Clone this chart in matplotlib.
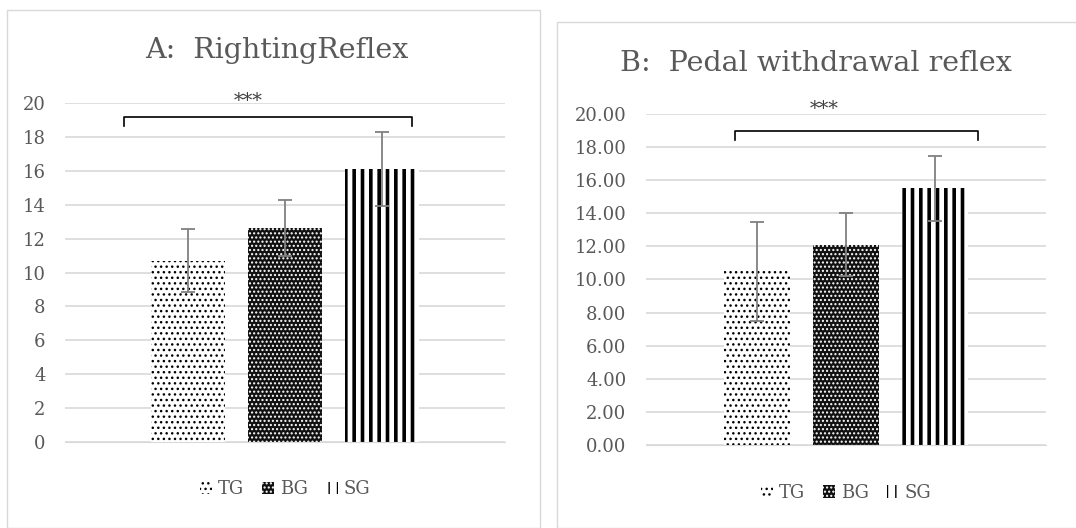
import numpy as np
import matplotlib.pyplot as plt
from matplotlib.patches import Rectangle, Patch

# data
groups = ['TG', 'BG', 'SG']
righting_mean = [10.7, 12.6, 16.1]
righting_err = [1.85, 1.65, 2.2]
pedal_mean = [10.5, 12.1, 15.5]
pedal_err = [3.0, 1.9, 1.95]
righting_bracket = 19.2
pedal_bracket = 18.95

plt.rcParams['font.family'] = ['DejaVu Serif']
grey = '#595959'

fig = plt.figure(figsize=(10.76, 5.28), dpi=100)

# panel frames
fig.patches.append(Rectangle((7 / 1076, 0), 533 / 1076, 518 / 528, transform=fig.transFigure,
                             fill=False, ec='#d9d9d9', lw=1))
fig.patches.append(Rectangle((557 / 1076, 0), 530 / 1076, 506 / 528, transform=fig.transFigure,
                             fill=False, ec='#d9d9d9', lw=1))

styles = [dict(facecolor='white', edgecolor='black', hatch='...', lw=0),
          dict(facecolor='#111111', edgecolor='white', hatch='....', lw=0),
          dict(facecolor='white', edgecolor='black', hatch='||', lw=0)]
hatch_lw = [1.0, 1.0, 2.6]


def panel(rect, means, errs, title, fmt, half, width, bracket, br, title_xy, leg_y, star):
    ax = fig.add_axes(rect)
    x = np.arange(len(groups))
    handles = []
    for i in range(len(groups)):
        b = ax.bar(x[i], means[i], width=width, zorder=2, **styles[i])
        for p in b:
            p.set_hatch_linewidth(hatch_lw[i])
        ax.errorbar(x[i], means[i], yerr=errs[i], fmt='none', ecolor='#808080',
                    elinewidth=1.3, capsize=5, capthick=1.3, zorder=3)
        h = Patch(label=groups[i], **styles[i])
        h.set_hatch_linewidth(min(hatch_lw[i], 1.6))
        handles.append(h)
    ax.set_xlim(1 - half, 1 + half)
    ax.set_ylim(0, 20)
    ax.set_yticks(np.arange(0, 21, 2))
    ax.set_yticklabels([fmt.format(v) for v in np.arange(0, 21, 2)])
    ax.yaxis.grid(True, color='#d9d9d9', lw=1.2)
    ax.set_axisbelow(True)
    ax.set_xticks([])
    for s in ax.spines.values():
        s.set_visible(False)
    ax.spines['bottom'].set_visible(True)
    ax.spines['bottom'].set_color('#d9d9d9')
    ax.tick_params(axis='y', length=0, labelsize=13, labelcolor=grey, pad=14)

    # significance bracket
    ax.plot([x[0] + br[0], x[0] + br[0], x[2] + br[1], x[2] + br[1]],
            [bracket - 0.55, bracket, bracket, bracket - 0.55],
            color='black', lw=1.2, clip_on=False)
    ax.text(1 + star[0], star[1], '***', ha='center', va='center',
            fontsize=14, color='#404040', clip_on=False)

    ax.text(title_xy[0], title_xy[1], title, transform=ax.transAxes, ha='center',
            va='center', fontsize=20.5, color=grey)
    ax.legend(handles=handles, loc='center', bbox_to_anchor=(0.5, leg_y), ncol=3,
              frameon=False, fontsize=13, labelcolor=grey, handlelength=0.7,
              handleheight=0.7, handletextpad=0.3, columnspacing=1.0)
    return ax


panel([65 / 1076, 86 / 528, 440 / 1076, 339 / 528], righting_mean, righting_err,
      'A:  RightingReflex', '{:.0f}', 220 / 97, 0.77, righting_bracket, (-0.66, 0.31),
      (0.482, 1.156), -0.14, (-0.38, 20.1))
panel([646 / 1076, 83 / 528, 400 / 1076, 331 / 528], pedal_mean, pedal_err,
      'B:  Pedal withdrawal reflex', '{:.2f}', 200 / 89, 0.75, pedal_bracket, (-0.25, 0.48),
      (0.425, 1.154), -0.145, (-0.24, 20.3))

fig.savefig('out.png', dpi=100)
